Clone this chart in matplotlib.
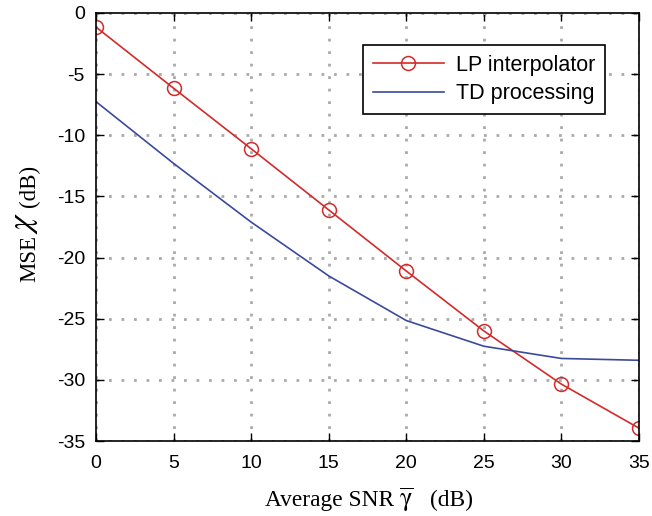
import matplotlib
matplotlib.use("Agg")
import matplotlib.pyplot as plt

# values
snr = [0, 5, 10, 15, 20, 25, 30, 35]
lp_mse = [-1.15, -6.15, -11.1, -16.1, -21.1, -26.0, -30.35, -33.95]
td_mse = [-7.25, -12.3, -17.1, -21.5, -25.15, -27.25, -28.25, -28.4]

plt.rcParams["font.family"] = ["Liberation Sans", "DejaVu Sans"]
plt.rcParams["mathtext.fontset"] = "stix"
plt.rcParams["axes.unicode_minus"] = False

W, H = 652, 516
fig = plt.figure(figsize=(W / 100, H / 100), dpi=100)
ax = fig.add_axes([96 / W, 1 - 441 / H, 543 / W, 428 / H])


def px(x, y):
    # pixel position (from top-left) -> figure fraction
    return x / W, 1 - y / H


ax.plot(snr, lp_mse, color="#d42a2a", lw=1.2, marker="o", ms=10,
        mfc="none", mec="#d42a2a", mew=1.1, label="LP interpolator")
ax.plot(snr, td_mse, color="#3a4a9c", lw=1.2, label="TD processing")

ax.set_xlim(0, 35)
ax.set_ylim(-35, 0)
ax.set_xticks(range(0, 36, 5))
ax.set_yticks(range(-35, 1, 5))
ax.tick_params(direction="in", length=6, width=1, labelsize=14,
               top=True, right=True, colors="black")
ax.tick_params(axis="x", pad=10)
ax.tick_params(axis="y", pad=8)
ax.grid(True, color="#aaaaaa", linestyle=(0, (1, 3.5)), linewidth=2)
for s in ax.spines.values():
    s.set_linewidth(1.2)

# axis labels built from pieces so the Greek letters can be larger
serif = ["Liberation Serif", "DejaVu Serif"]
fig.text(*px(394, 506), "Average SNR", family=serif, fontsize=16.8,
         ha="right", va="baseline")
fig.text(*px(406, 506), r"$\overline{\mathrm{\gamma}}$", fontsize=19,
         ha="center", va="baseline")
fig.text(*px(430, 506), "(dB)", family=serif, fontsize=16.8,
         ha="left", va="baseline")

fig.text(*px(35, 259), "MSE", family=serif, fontsize=16.5, rotation=90,
         rotation_mode="anchor", ha="center", va="baseline")
fig.text(*px(31, 223), r"$\chi$", fontsize=24, rotation=90,
         rotation_mode="anchor", ha="center", va="baseline")
fig.text(*px(35, 186), "(dB)", family=serif, fontsize=16.5, rotation=90,
         rotation_mode="anchor", ha="center", va="baseline")

leg = ax.legend(loc="upper right", bbox_to_anchor=(0.937, 0.925),
                borderaxespad=0, fontsize=15.5, fancybox=False,
                edgecolor="black", framealpha=1, handlelength=3.3,
                borderpad=0.45, labelspacing=0.35, handletextpad=0.55)
leg.get_frame().set_linewidth(1.2)

fig.savefig("out.png", dpi=100)
